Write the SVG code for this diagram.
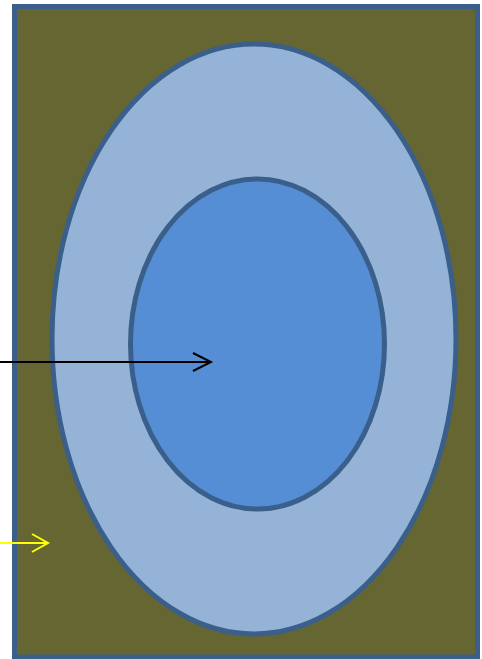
<svg xmlns="http://www.w3.org/2000/svg" width="482" height="659" viewBox="0 0 482 659">
<style>
.edge{stroke:#3A5F8B;stroke-width:5}
.arrow{fill:none;stroke-width:2}
</style>
<g id="background"><rect x="14.5" y="6.5" width="463" height="650.5" fill="#666633" class="edge"/></g>
<g id="outer"><ellipse cx="254" cy="339" rx="202" ry="295" fill="#95B3D7" class="edge"/></g>
<g id="inner"><ellipse cx="257.5" cy="344" rx="127" ry="165" fill="#558ED5" class="edge"/></g>
<g id="connectors">
<path class="arrow" stroke="#000000" d="M0 362 H211 M193 353 L211 362 L193 371"/>
<path class="arrow" stroke="#FFFF00" d="M0 543 H48 M32 534 L48 543 L32 552"/>
</g>
</svg>
